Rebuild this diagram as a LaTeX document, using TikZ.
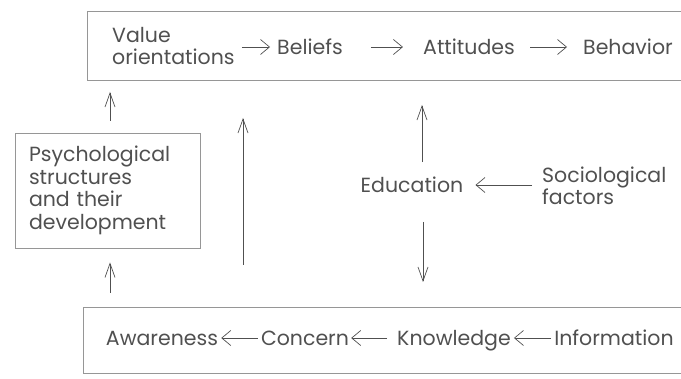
\documentclass[tikz,border=0pt]{standalone}
\usepackage{fontspec}
\setmainfont{Poppins}
\usetikzlibrary{arrows.meta,calc,positioning}
\definecolor{ink}{RGB}{80,80,80}
\definecolor{rule}{RGB}{150,150,150}
\tikzset{>={Straight Barb[length=9pt,width=15pt]}}
\tikzset{%
    term/.style={inner sep=2pt,text=ink,font=\fontsize{20.5}{22.5}\selectfont},%
    word/.style={term,text height=19pt,text depth=4.5pt},%
    stack/.style={term,align=left},%
    flow/.style={->,draw=ink,line width=0.7pt},%
    rise/.style={flow,-{Straight Barb[length=14pt,width=10pt]}},%
    gap/.style={shorten <=#1,shorten >=#1},%
    frame/.style={draw=rule,line width=0.8pt}%
}

\begin{document}
\begin{tikzpicture}[x=1pt,y=-1pt]
  \useasboundingbox (0,0) rectangle (681,379);
  % open frames, both run off to the right
  \draw[frame] (681,11) -| (87,80) -- (681,80);
  \draw[frame] (681,307) -| (83,373) -- (681,373);
  \coordinate (topfoot) at (0,80);
  \coordinate (botrim) at (0,307);
  \coordinate (mid) at (243,0);

  % upper chain
  \node[stack,anchor=west] (vo) at (110,46) {Value\\orientations};
  \node[word] (bel) at (310,47) {Beliefs};
  \node[word] (att) at (469,47) {Attitudes};
  \node[word] (beh) at (628,47) {Behavior};
  \draw[flow,gap=5pt] (vo.east |- bel) -- (bel);
  \draw[flow,shorten <=26pt,shorten >=18pt] (bel) -- (att);
  \draw[flow,shorten <=13pt,shorten >=14pt] (att) -- (beh);

  % left box
  \node[frame,stack,text width=157pt,inner xsep=14pt,minimum height=115pt]
    (psy) at (107.5,190.5) {Psychological\\structures\\and their\\development};

  % middle
  \node[word] (edu) at (412,185) {Education};
  \node[stack,anchor=west] (soc) at (540,186) {Sociological\\factors};
  \draw[flow,shorten <=8pt,shorten >=10pt] (soc.west |- edu) -- (edu);

  % lower chain
  \node[word] (awa) at (162,338) {Awareness};
  \node[word] (con) at (305,338) {Concern};
  \node[word] (kno) at (454,338) {Knowledge};
  \node[word] (inf) at (614,338) {Information};
  \draw[flow,gap=1pt] (con) -- (awa);
  \draw[flow,shorten <=8pt,shorten >=0pt] (kno) -- (con);
  \draw[flow,gap=1pt] (inf) -- (kno);

  % vertical links
  \draw[rise,gap=12pt] ([xshift=2.5pt]psy.north) -- ([xshift=2.5pt]psy.north |- topfoot);
  \draw[rise,gap=14pt] ([xshift=2.5pt]psy.south |- botrim) -- ([xshift=2.5pt]psy.south);
  \draw[rise,shorten <=42pt,shorten >=38pt] (mid |- botrim) -- (mid |- topfoot);
  \draw[rise,shorten <=9pt,shorten >=25pt] ([xshift=10pt]edu.north) -- ([xshift=10pt]edu.north |- topfoot);
  \draw[rise,shorten <=23pt,shorten >=25pt] ([xshift=11pt]edu.south) -- ([xshift=11pt]edu.south |- botrim);
\end{tikzpicture}
\end{document}
